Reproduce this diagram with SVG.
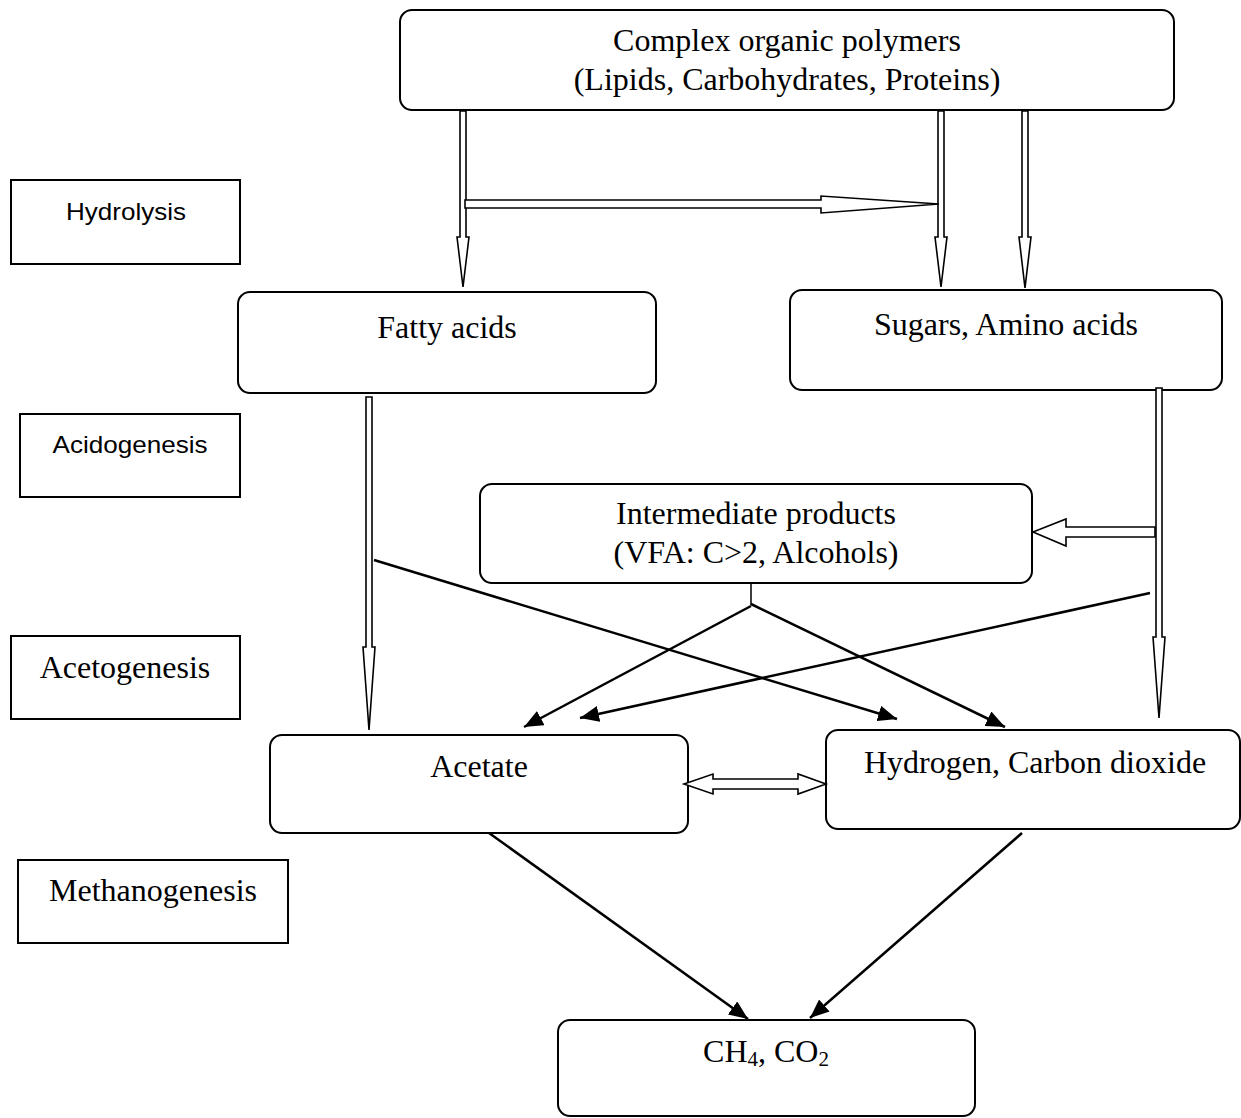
<svg xmlns="http://www.w3.org/2000/svg" width="1241" height="1118" viewBox="0 0 1241 1118">
<style>
.box{fill:#fff;stroke:#000;stroke-width:2}
.stage{fill:#fff;stroke:#000;stroke-width:2}
.serif{font-family:"Liberation Serif","Times New Roman",serif;font-size:32px;fill:#000;text-anchor:middle}
.sans{font-family:"Liberation Sans",Arial,sans-serif;font-size:24px;fill:#000;text-anchor:middle}
.hollow{fill:#fff;stroke:#000;stroke-width:1.6;stroke-linejoin:miter}
.line{fill:none;stroke:#000;stroke-width:2.5}
</style>
<defs>
<marker id="ah" markerUnits="userSpaceOnUse" markerWidth="20" markerHeight="16" refX="19" refY="8" orient="auto">
<path d="M0,0 L19,8 L0,16 Z" fill="#000"/>
</marker>
</defs>
<rect width="1241" height="1118" fill="#fff"/>

<g id="stage-hydrolysis"><rect class="stage" x="11" y="180" width="229" height="84"/><text class="sans" x="126" y="220" textLength="120" lengthAdjust="spacingAndGlyphs">Hydrolysis</text></g>
<g id="stage-acidogenesis"><rect class="stage" x="20" y="414" width="220" height="83"/><text class="sans" x="130" y="453" textLength="155" lengthAdjust="spacingAndGlyphs">Acidogenesis</text></g>
<g id="stage-acetogenesis"><rect class="stage" x="11" y="636" width="229" height="83"/><text class="serif" x="125" y="678">Acetogenesis</text></g>
<g id="stage-methanogenesis"><rect class="stage" x="18" y="860" width="270" height="83"/><text class="serif" x="153" y="901">Methanogenesis</text></g>

<g id="node-polymers"><rect class="box" x="400" y="10" width="774" height="100" rx="12"/><text class="serif" x="787" y="51">Complex organic polymers</text><text class="serif" x="787" y="90">(Lipids, Carbohydrates, Proteins)</text></g>
<g id="node-fatty"><rect class="box" x="238" y="292" width="418" height="101" rx="12"/><text class="serif" x="447" y="338">Fatty acids</text></g>
<g id="node-sugars"><rect class="box" x="790" y="290" width="432" height="100" rx="12"/><text class="serif" x="1006" y="335">Sugars, Amino acids</text></g>
<g id="node-intermediate"><rect class="box" x="480" y="484" width="552" height="99" rx="12"/><text class="serif" x="756" y="524">Intermediate products</text><text class="serif" x="756" y="563">(VFA: C&gt;2, Alcohols)</text></g>
<g id="node-acetate"><rect class="box" x="270" y="735" width="418" height="98" rx="12"/><text class="serif" x="479" y="777">Acetate</text></g>
<g id="node-hydrogen"><rect class="box" x="826" y="730" width="414" height="99" rx="12"/><text class="serif" x="1035" y="773">Hydrogen, Carbon dioxide</text></g>
<g id="node-ch4"><rect class="box" x="558" y="1020" width="417" height="96" rx="12"/><text class="serif" x="766" y="1062">CH<tspan font-size="21" dy="4">4</tspan><tspan dy="-4">, CO</tspan><tspan font-size="21" dy="4">2</tspan></text></g>

<g id="connectors">
<path class="hollow" d="M460,111 L466,111 L466,237 L469,237 L463,287 L457,237 L460,237 Z"/>
<path class="hollow" d="M938,111 L944,111 L944,237 L947,237 L941,287 L935,237 L938,237 Z"/>
<path class="hollow" d="M1022,111 L1028,111 L1028,237 L1031,237 L1025,288 L1019,237 L1022,237 Z"/>
<path class="hollow" d="M465,200 L821,200 L821,196 L939,204 L821,213 L821,208 L465,208 Z"/>
<path class="hollow" d="M366,397 L372,397 L372,647 L375,647 L369,730 L363,647 L366,647 Z"/>
<path class="hollow" d="M1156,388 L1162,388 L1162,637 L1165,637 L1159,718 L1153,637 L1156,637 Z"/>
<path class="hollow" d="M1155,527 L1066,527 L1066,519 L1033,532 L1066,546 L1066,537 L1155,537 Z"/>
<path class="hollow" d="M684,784 L713,774 L713,779 L798,779 L798,774 L826,784 L798,794 L798,789 L713,789 L713,794 Z"/>
<line class="line" x1="374" y1="560" x2="897" y2="719" marker-end="url(#ah)"/>
<line class="line" x1="1150" y1="593" x2="580" y2="718" marker-end="url(#ah)"/>
<line class="line" x1="751" y1="583" x2="751" y2="605" style="stroke-width:1.5"/>
<line class="line" x1="751" y1="606" x2="524" y2="727" marker-end="url(#ah)"/>
<line class="line" x1="751" y1="604" x2="1005" y2="727" marker-end="url(#ah)"/>
<line class="line" x1="489" y1="833" x2="748" y2="1019" marker-end="url(#ah)"/>
<line class="line" x1="1022" y1="833" x2="810" y2="1018" marker-end="url(#ah)"/>
</g>
</svg>
